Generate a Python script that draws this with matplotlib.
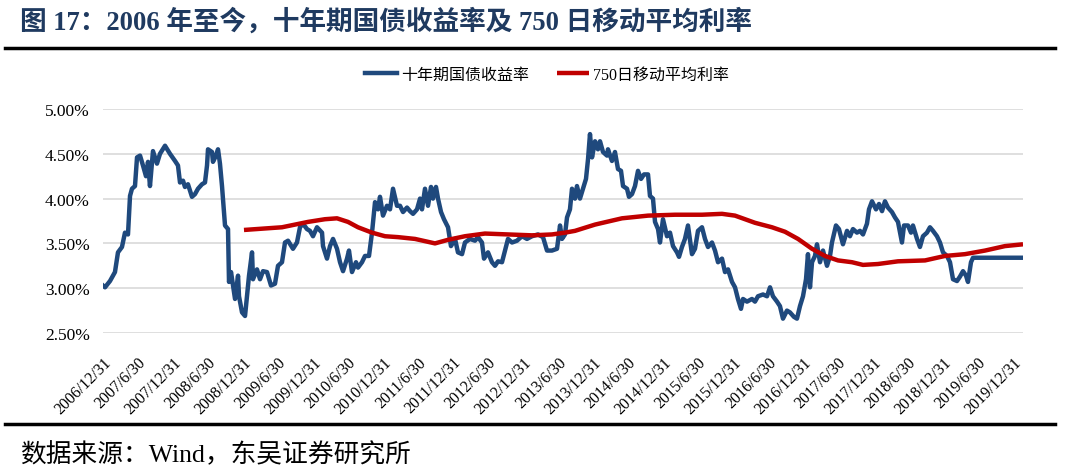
# ---------- 十年期国债收益率及750日移动平均利率 ----------

import matplotlib
matplotlib.use('Agg')
import matplotlib.pyplot as plt
from matplotlib.lines import Line2D

# ----- Data (decimal year, %) -----

yield_x = [
    2007.000, 2007.029, 2007.100, 2007.171, 2007.214, 2007.271, 2007.314, 2007.357, 2007.386, 2007.414,
    2007.457, 2007.486, 2007.529, 2007.571, 2007.614, 2007.643, 2007.671, 2007.714, 2007.771, 2007.814,
    2007.886, 2007.957, 2008.029, 2008.071, 2008.100, 2008.143, 2008.171, 2008.214, 2008.271, 2008.314,
    2008.357, 2008.414, 2008.457, 2008.486, 2008.500, 2008.557, 2008.571, 2008.614, 2008.643, 2008.671,
    2008.700, 2008.743, 2008.786, 2008.800, 2008.829, 2008.857, 2008.886, 2008.929, 2008.943, 2008.986,
    2009.029, 2009.057, 2009.086, 2009.129, 2009.143, 2009.200, 2009.243, 2009.286, 2009.343, 2009.400,
    2009.457, 2009.500, 2009.557, 2009.600, 2009.643, 2009.714, 2009.771, 2009.814, 2009.857, 2009.914,
    2009.957, 2010.000, 2010.057, 2010.129, 2010.143, 2010.200, 2010.243, 2010.286, 2010.343, 2010.386,
    2010.429, 2010.486, 2010.514, 2010.557, 2010.614, 2010.643, 2010.700, 2010.743, 2010.800, 2010.843,
    2010.886, 2010.929, 2010.957, 2011.000, 2011.057, 2011.100, 2011.143, 2011.200, 2011.243, 2011.286,
    2011.343, 2011.386, 2011.429, 2011.486, 2011.529, 2011.557, 2011.600, 2011.643, 2011.686, 2011.714,
    2011.757, 2011.786, 2011.829, 2011.871, 2011.929, 2011.971, 2012.029, 2012.071, 2012.129, 2012.171,
    2012.243, 2012.314, 2012.357, 2012.414, 2012.443, 2012.500, 2012.557, 2012.600, 2012.643, 2012.700,
    2012.743, 2012.786, 2012.843, 2012.914, 2012.986, 2013.057, 2013.129, 2013.214, 2013.286, 2013.343,
    2013.414, 2013.486, 2013.529, 2013.557, 2013.600, 2013.629, 2013.671, 2013.700, 2013.743, 2013.771,
    2013.814, 2013.857, 2013.900, 2013.929, 2013.957, 2013.986, 2014.029, 2014.071, 2014.100, 2014.143,
    2014.200, 2014.214, 2014.271, 2014.314, 2014.357, 2014.400, 2014.429, 2014.486, 2014.514, 2014.557,
    2014.600, 2014.643, 2014.686, 2014.729, 2014.786, 2014.814, 2014.857, 2014.886, 2014.929, 2014.957,
    2015.000, 2015.057, 2015.100, 2015.143, 2015.200, 2015.229, 2015.271, 2015.314, 2015.357, 2015.414,
    2015.457, 2015.500, 2015.557, 2015.600, 2015.643, 2015.700, 2015.743, 2015.786, 2015.843, 2015.886,
    2015.929, 2015.986, 2016.029, 2016.071, 2016.114, 2016.143, 2016.200, 2016.271, 2016.314, 2016.357,
    2016.429, 2016.486, 2016.529, 2016.571, 2016.629, 2016.671, 2016.714, 2016.771, 2016.814, 2016.871,
    2016.914, 2016.957, 2017.000, 2017.043, 2017.071, 2017.100, 2017.129, 2017.171, 2017.200, 2017.243,
    2017.286, 2017.343, 2017.386, 2017.414, 2017.471, 2017.514, 2017.571, 2017.629, 2017.671, 2017.714,
    2017.771, 2017.814, 2017.857, 2017.914, 2017.943, 2017.986, 2018.043, 2018.086, 2018.129, 2018.171,
    2018.214, 2018.271, 2018.314, 2018.357, 2018.414, 2018.443, 2018.500, 2018.543, 2018.571, 2018.629,
    2018.671, 2018.714, 2018.771, 2018.814, 2018.857, 2018.914, 2018.957, 2019.000, 2019.057, 2019.100,
    2019.143, 2019.200, 2019.243, 2019.286, 2019.329, 2019.357, 2019.400, 2019.429, 2020.143,
]

yield_10y = [
    3.03, 3.01, 3.08, 3.18, 3.40, 3.46, 3.62, 3.60, 4.03, 4.11,
    4.14, 4.46, 4.48, 4.37, 4.25, 4.41, 4.14, 4.53, 4.39, 4.50,
    4.59, 4.50, 4.42, 4.37, 4.18, 4.20, 4.13, 4.16, 4.02, 4.05,
    4.11, 4.16, 4.18, 4.37, 4.55, 4.52, 4.41, 4.48, 4.55, 4.39,
    4.14, 3.70, 3.66, 3.07, 3.18, 3.03, 2.88, 3.14, 2.91, 2.73,
    2.69, 2.91, 3.14, 3.40, 3.10, 3.21, 3.10, 3.19, 3.18, 3.03,
    3.05, 3.25, 3.29, 3.51, 3.53, 3.44, 3.51, 3.68, 3.72, 3.66,
    3.64, 3.58, 3.68, 3.62, 3.47, 3.33, 3.47, 3.55, 3.44, 3.29,
    3.19, 3.33, 3.42, 3.18, 3.29, 3.23, 3.29, 3.36, 3.36, 3.62,
    3.96, 3.88, 4.02, 3.81, 3.92, 3.88, 4.11, 3.92, 3.92, 3.85,
    3.90, 3.86, 3.83, 3.88, 4.00, 3.88, 4.11, 3.92, 4.13, 4.00,
    4.13, 4.00, 3.85, 3.77, 3.68, 3.47, 3.55, 3.40, 3.38, 3.51,
    3.55, 3.53, 3.57, 3.51, 3.33, 3.40, 3.29, 3.25, 3.30, 3.29,
    3.42, 3.55, 3.51, 3.53, 3.58, 3.55, 3.58, 3.60, 3.57, 3.42,
    3.42, 3.44, 3.70, 3.55, 3.60, 3.79, 3.88, 4.11, 4.00, 4.14,
    4.00, 4.11, 4.22, 4.44, 4.72, 4.46, 4.64, 4.55, 4.64, 4.52,
    4.48, 4.55, 4.42, 4.52, 4.33, 4.31, 4.14, 4.11, 4.02, 4.05,
    4.14, 4.31, 4.22, 4.27, 4.27, 4.03, 4.00, 3.74, 3.66, 3.51,
    3.77, 3.58, 3.62, 3.47, 3.40, 3.35, 3.46, 3.55, 3.70, 3.38,
    3.44, 3.64, 3.68, 3.55, 3.46, 3.51, 3.42, 3.29, 3.33, 3.18,
    3.21, 3.07, 3.01, 2.88, 2.77, 2.88, 2.85, 2.88, 2.85, 2.91,
    2.93, 2.91, 3.01, 2.91, 2.85, 2.80, 2.66, 2.75, 2.73, 2.68,
    2.66, 2.80, 2.91, 3.10, 3.38, 3.01, 3.29, 3.36, 3.49, 3.29,
    3.42, 3.25, 3.36, 3.51, 3.70, 3.66, 3.49, 3.64, 3.58, 3.66,
    3.62, 3.64, 3.60, 3.72, 3.88, 3.97, 3.88, 3.94, 3.86, 3.97,
    3.90, 3.85, 3.79, 3.74, 3.51, 3.70, 3.70, 3.62, 3.70, 3.55,
    3.46, 3.58, 3.62, 3.68, 3.64, 3.58, 3.51, 3.40, 3.36, 3.29,
    3.10, 3.08, 3.13, 3.19, 3.14, 3.07, 3.29, 3.34, 3.34,
]

ma_x = [
    2009.014, 2009.557, 2009.929, 2010.171, 2010.343, 2010.500, 2010.643, 2010.843, 2011.029, 2011.214,
    2011.457, 2011.743, 2011.929, 2012.171, 2012.457, 2012.786, 2013.129, 2013.414, 2013.600, 2013.743,
    2014.029, 2014.414, 2014.786, 2015.171, 2015.557, 2015.843, 2016.029, 2016.314, 2016.557, 2016.743,
    2016.929, 2017.129, 2017.314, 2017.500, 2017.700, 2017.857, 2018.071, 2018.357, 2018.743, 2019.029,
    2019.314, 2019.600, 2019.886, 2020.143,
]

ma_750 = [
    3.65, 3.68, 3.74, 3.77, 3.78, 3.74, 3.68, 3.62, 3.58, 3.57,
    3.55, 3.50, 3.54, 3.58, 3.61, 3.60, 3.59, 3.60, 3.62, 3.64,
    3.71, 3.78, 3.81, 3.82, 3.82, 3.83, 3.81, 3.73, 3.68, 3.63,
    3.55, 3.44, 3.36, 3.31, 3.29, 3.26, 3.27, 3.30, 3.31, 3.36,
    3.38, 3.42, 3.47, 3.49,
]

tick_pos = [2007 + 0.5 * i for i in range(27)]
tick_labels = []
for i in range(27):
    yr = 2006 + (i + 1) // 2
    tick_labels.append(f'{yr}/12/31' if i % 2 == 0 else f'{yr}/6/30')

y_ticks = [2.5, 3.0, 3.5, 4.0, 4.5, 5.0]

# ----- Plot -----

FONTS = ['Liberation Serif', 'Noto Sans CJK SC', 'DejaVu Sans']
plt.rcParams['font.family'] = FONTS

fig = plt.figure(figsize=(10.78, 4.77), dpi=100)
ax = fig.add_axes([103 / 1078, 1 - 334 / 477, 920 / 1078, 224 / 477])

ax.plot(yield_x, yield_10y, color='#1F497D', lw=3.2, solid_joinstyle='round', label='十年期国债收益率', zorder=3)
ax.plot(ma_x, ma_750, color='#C00000', lw=3.2, solid_capstyle='butt', label='750日移动平均利率', zorder=4)

ax.set_xlim(2007.0, 2020.143)
ax.set_ylim(2.5, 5.0)
ax.set_yticks(y_ticks)
ax.set_yticklabels([f'{v:.2f}%' for v in y_ticks], fontsize=12.5)
ax.set_xticks(tick_pos)
ax.set_xticklabels(tick_labels, rotation=45, ha='right', va='top', rotation_mode='anchor', fontsize=11.5)

ax.tick_params(axis='both', length=0)
ax.tick_params(axis='y', pad=9.5)
ax.tick_params(axis='x', pad=15)
ax.grid(axis='y', color='#D9D9D9', lw=1.2)
ax.set_axisbelow(True)
for s in ax.spines.values():
    s.set_visible(False)

fig.legend(loc='center', bbox_to_anchor=(547 / 1078, 1 - 76 / 477), ncol=2, frameon=False,
           fontsize=11.5, handlelength=2.0, handletextpad=0.25, columnspacing=1.8)

# -- Title, source and rules --
fig.text(20 / 1078, 1 - 22 / 477, '图 17：2006 年至今，十年期国债收益率及 750 日移动平均利率',
         fontsize=19.2, fontweight='bold', color='#1F3A60', ha='left', va='center')
fig.text(20 / 1078, 1 - 455 / 477, '数据来源：Wind，东吴证券研究所',
         fontsize=18.5, color='black', ha='left', va='center')

fig.add_artist(Line2D([5 / 1078, 1055 / 1078], [1 - 49 / 477] * 2, transform=fig.transFigure, color='black', lw=2.5))
fig.add_artist(Line2D([5 / 1078, 1055 / 1078], [1 - 425 / 477] * 2, transform=fig.transFigure, color='black', lw=2.5))

fig.savefig('out.png', dpi=100, facecolor='white')
